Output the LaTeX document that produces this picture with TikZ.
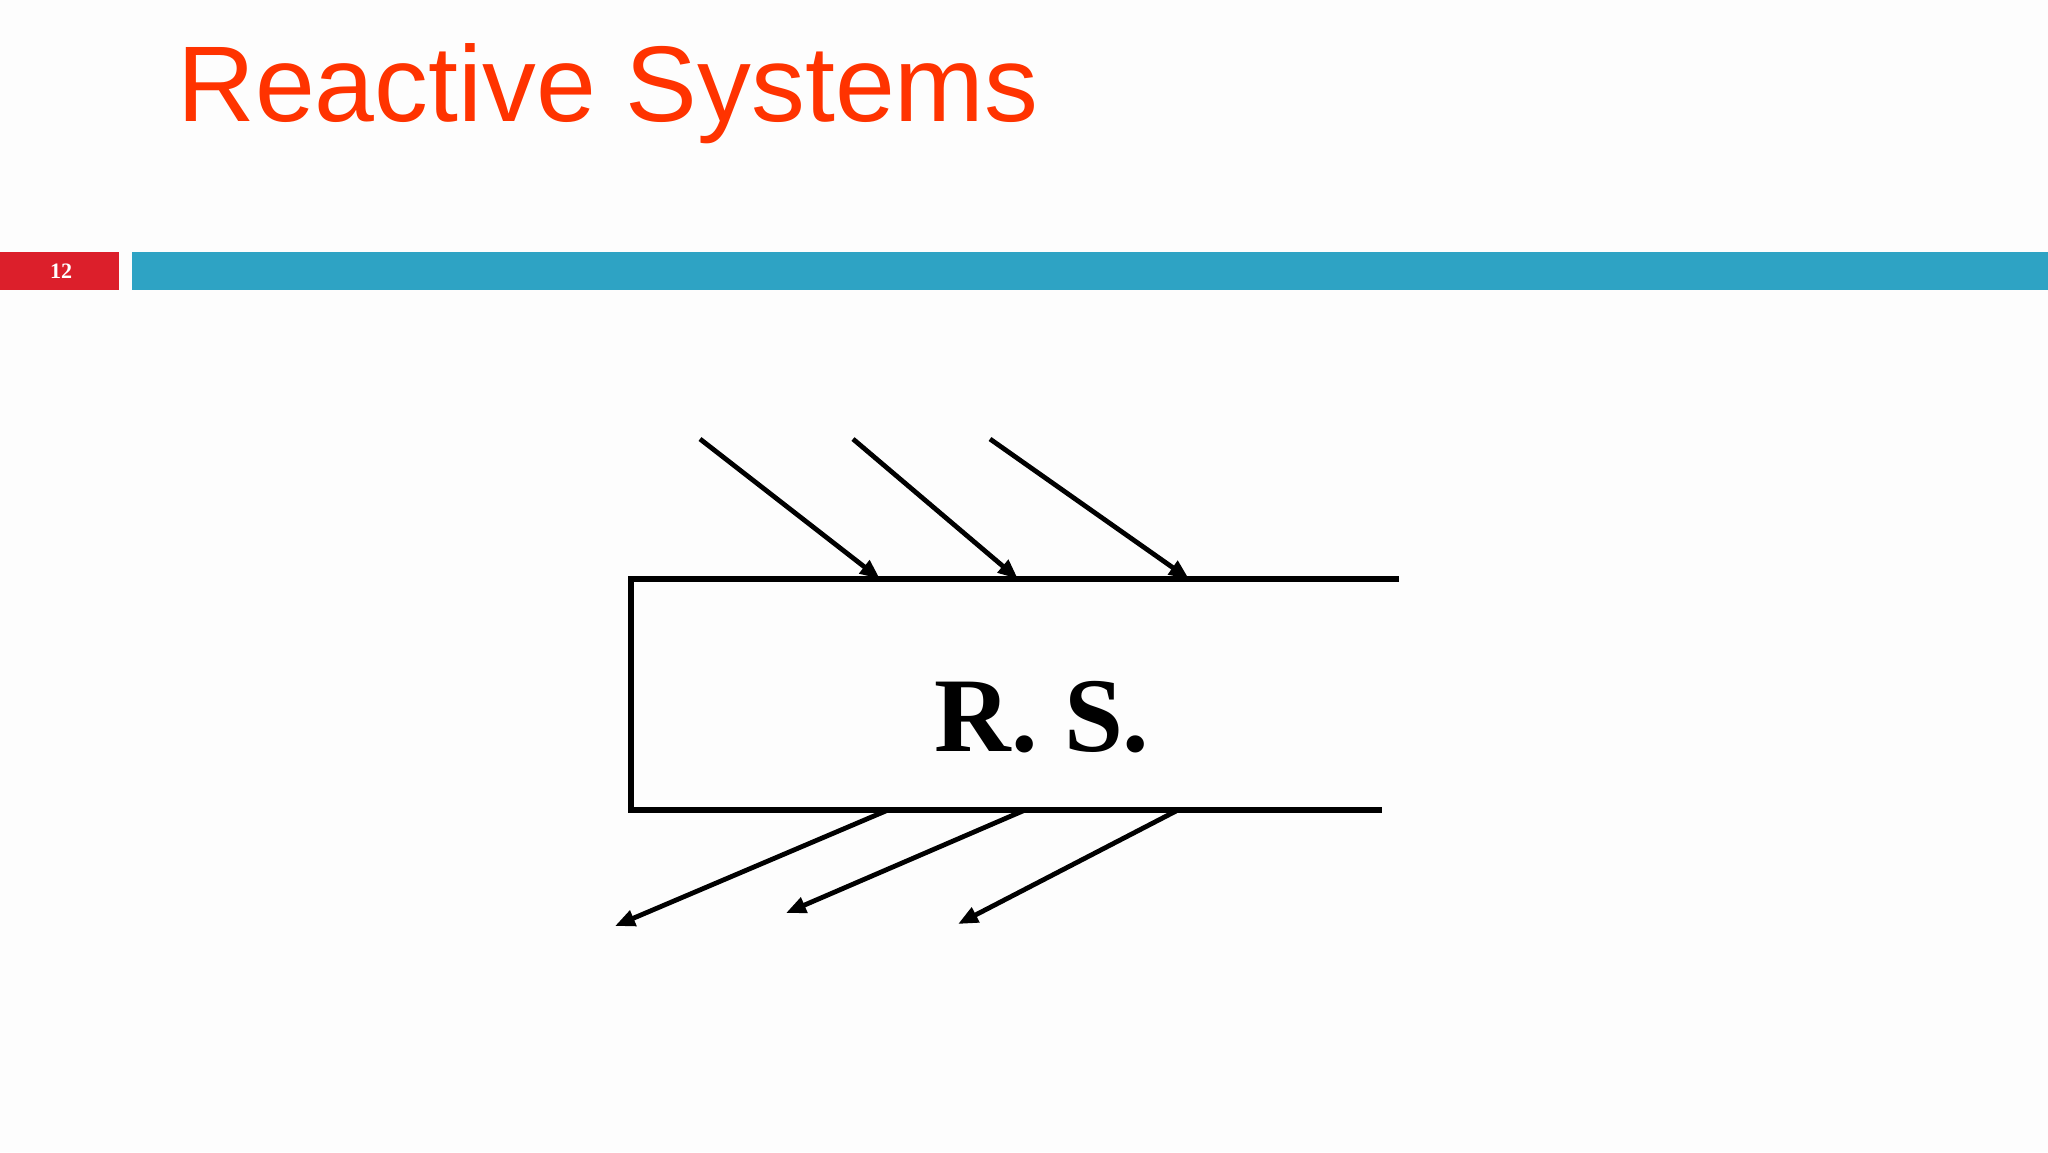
\documentclass[tikz,border=0pt]{standalone}
\usepackage{fontspec}
\setmainfont{Liberation Serif}
\newfontfamily\titlefont{Liberation Sans}
\usetikzlibrary{arrows.meta}
\definecolor{titlered}{HTML}{FF3300}
\definecolor{badgered}{HTML}{DC1F2B}
\definecolor{barteal}{HTML}{2EA3C4}
\definecolor{pagebg}{HTML}{FDFDFD}
\tikzset{
  wire/.style={line width=2.6pt, black},
  sig/.style={line width=2.4pt, black, -{Triangle[length=10pt,width=8pt]}},
}
\begin{document}
\begin{tikzpicture}[x=0.5pt,y=-0.5pt]
\fill[pagebg] (0,0) rectangle (2048,1152);
\useasboundingbox (0,0) rectangle (2048,1152);
% title
\node[anchor=base west, inner sep=0pt, text=titlered, font=\titlefont\fontsize{53.8pt}{60pt}\selectfont] (title) at (177,121) {Reactive Systems};
% header bars
\fill[badgered] (0,252) rectangle (119,290);
\fill[barteal] (132,252) rectangle (2048,290);
\node[inner sep=0pt, text=white, font=\bfseries\fontsize{11pt}{11pt}\selectfont] (pagenum) at (61,271) {12};
% system outline
\coordinate (tl) at (631,579);
\coordinate (tr) at (1399,579);
\coordinate (bl) at (631,810);
\coordinate (br) at (1382,810);
\draw[wire] (tr) -- (tl) -- (bl) -- (br);
\node[inner sep=0pt, anchor=base, font=\bfseries\fontsize{53pt}{60pt}\selectfont] (rs) at (1042,751) {R. S.};
% inputs
\coordinate (i1) at (700,439);
\coordinate (i2) at (853,439);
\coordinate (i3) at (990,439);
\coordinate (j1) at (880,579);
\coordinate (j2) at (1018,579);
\coordinate (j3) at (1189,579);
\draw[sig] (i1) -- (j1);
\draw[sig] (i2) -- (j2);
\draw[sig] (i3) -- (j3);
% outputs
\coordinate (o1) at (888,810);
\coordinate (o2) at (1025,810);
\coordinate (o3) at (1178,810);
\coordinate (p1) at (615,926);
\coordinate (p2) at (786,913);
\coordinate (p3) at (958,924);
\draw[sig] (o1) -- (p1);
\draw[sig] (o2) -- (p2);
\draw[sig] (o3) -- (p3);
\end{tikzpicture}
\end{document}
